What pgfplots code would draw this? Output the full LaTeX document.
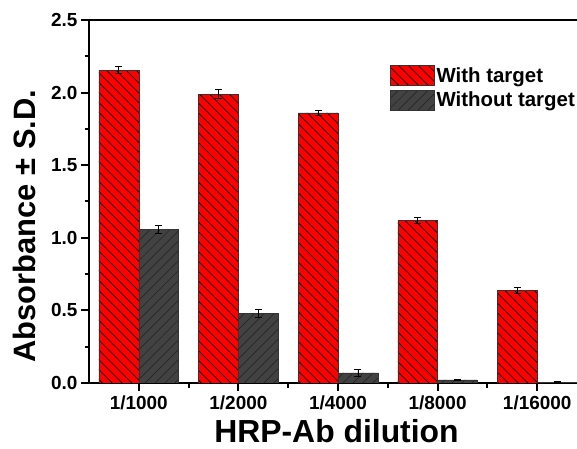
\documentclass[border=0pt]{standalone}
\usepackage{fontspec}
\setmainfont{Liberation Sans}
\usepackage{pgfplots}
\pgfplotsset{compat=1.18}
\usetikzlibrary{patterns.meta}
\definecolor{dgrey}{RGB}{66,66,66}
\begin{document}
\begin{tikzpicture}
\path[use as bounding box] (0,0) rectangle (577bp,449bp);
\begin{axis}[
  at={(89bp,66bp)}, anchor=south west,
  width=498bp, height=363bp, scale only axis,
  xmin=-0.5, xmax=4.5, ymin=0, ymax=2.5,
  xtick={0,1,2,3,4},
  xticklabels={1/1000,1/2000,1/4000,1/8000,1/16000},
  ytick={0,0.5,1,1.5,2,2.5},
  minor x tick num=1, minor y tick num=1,
  yticklabel style={/pgf/number format/.cd, fixed, fixed zerofill, precision=1},
  /pgf/number format/assume math mode=true,
  tick label style={font=\bfseries\fontsize{19}{19}\selectfont},
  xticklabel style={yshift=-1bp},
  tick align=outside,
  xtick pos=bottom, ytick pos=left,
  major tick length=8bp, minor tick length=4.5bp,
  every tick/.style={black, line width=2bp},
  axis line style={line width=2.5bp},
  ybar=0pt, bar width=39.8bp,
  xlabel={HRP-Ab dilution},
  xlabel style={font=\bfseries\fontsize{32}{32}\selectfont, at={(axis description cs:0.497,-0.163)}, anchor=base, inner sep=0pt},
  ylabel={Absorbance ± S.D.},
  ylabel style={font=\bfseries\fontsize{31}{31}\selectfont, at={(axis description cs:-0.108,0.432)}, anchor=base, rotate=0, inner sep=0pt},
  legend style={at={(axis description cs:0.604,0.876)}, anchor=north west, draw=none, fill=none,
    font=\bfseries\fontsize{20.5}{20.5}\selectfont, inner sep=0pt, row sep=4bp,
    nodes={inner sep=2bp}},
  legend cell align=left,
  legend image code/.code={\draw[#1] (0bp,-10bp) rectangle (44bp,10bp);},
  error bars/error bar style={line width=0.8bp, black},
  error bars/error mark options={rotate=90, mark size=3.5bp, line width=0.8bp, black},
]
\addplot[fill=red, draw=black!80, line width=0.6bp,
  postaction={pattern={Lines[angle=-45,distance=7bp,line width=0.7bp]}, pattern color=black},
  error bars/.cd, y dir=both, y explicit]
  coordinates {(0,2.155) +- (0,0.025) (1,1.99) +- (0,0.03) (2,1.86) +- (0,0.015) (3,1.12) +- (0,0.02) (4,0.635) +- (0,0.02)};
\addplot[fill=dgrey, draw=black!80, line width=0.6bp,
  postaction={pattern={Lines[angle=45,distance=7bp,line width=0.7bp]}, pattern color=black!85},
  error bars/.cd, y dir=both, y explicit]
  coordinates {(0,1.06) +- (0,0.027) (1,0.48) +- (0,0.027) (2,0.07) +- (0,0.027) (3,0.022) +- (0,0.005) (4,0.005) +- (0,0.003)};
\legend{With target, Without target}
\end{axis}
\end{tikzpicture}
\end{document}
